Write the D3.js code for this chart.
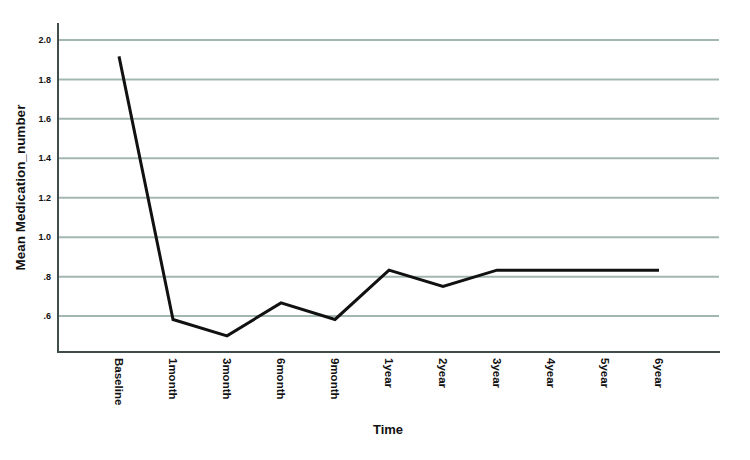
<!DOCTYPE html>
<html>
<head>
<meta charset="utf-8">
<script src="https://cdn.jsdelivr.net/npm/d3@7"></script>
<style>
  body { margin: 0; background: #fff; }
  svg text { font-family: "Liberation Sans", Arial, sans-serif; font-weight: bold; fill: #111; }
</style>
</head>
<body>
<div id="chart"></div>
<script>
const categories = ['Baseline', '1month', '3month', '6month', '9month', '1year', '2year', '3year', '4year', '5year', '6year'];
const meanValues = [1.917, 0.583, 0.5, 0.667, 0.583, 0.833, 0.75, 0.833, 0.833, 0.833, 0.833];
const yTicks = [0.6, 0.8, 1.0, 1.2, 1.4, 1.6, 1.8, 2.0];
const yTickLabels = ['.6', '.8', '1.0', '1.2', '1.4', '1.6', '1.8', '2.0'];

const width = 750, height = 460;
const plot = { left: 58, right: 720, top: 23, bottom: 352 };

const svg = d3.select('#chart').append('svg')
  .attr('width', width)
  .attr('height', height);

const x = d3.scalePoint().domain(categories).range([plot.left, plot.right]).padding(1.13);
const y = d3.scaleLinear().domain([0.418, 2.086]).range([plot.bottom, plot.top]);

// gridlines
svg.append('g')
  .selectAll('line')
  .data(yTicks)
  .enter().append('line')
  .attr('x1', plot.left)
  .attr('x2', plot.right - 1)
  .attr('y1', d => y(d))
  .attr('y2', d => y(d))
  .style('stroke', '#a3b7b2')
  .style('stroke-width', 2);

// y tick labels
svg.append('g')
  .selectAll('text')
  .data(yTicks)
  .enter().append('text')
  .attr('x', plot.left - 7)
  .attr('y', d => y(d))
  .attr('dy', '0.35em')
  .attr('text-anchor', 'end')
  .style('font-size', '9px')
  .text((d, i) => yTickLabels[i]);

// axes lines
svg.append('line')
  .attr('x1', plot.left).attr('x2', plot.left)
  .attr('y1', plot.top).attr('y2', plot.bottom)
  .style('stroke', '#3f4d4b').style('stroke-width', 2);
svg.append('line')
  .attr('x1', plot.left - 1).attr('x2', plot.right)
  .attr('y1', plot.bottom).attr('y2', plot.bottom)
  .style('stroke', '#3f4d4b').style('stroke-width', 2);

// x tick labels, rotated
svg.append('g')
  .selectAll('text')
  .data(categories)
  .enter().append('text')
  .attr('transform', d => 'translate(' + x(d) + ',' + (plot.bottom + 6) + ') rotate(90)')
  .attr('dy', '0.35em')
  .attr('text-anchor', 'start')
  .style('font-size', '11.5px')
  .text(d => d);

// line
const line = d3.line()
  .x((d, i) => x(categories[i]))
  .y(d => y(d));

svg.append('path')
  .datum(meanValues)
  .attr('d', line)
  .style('fill', 'none')
  .style('stroke', '#111')
  .style('stroke-width', 3)
  .style('stroke-linejoin', 'miter');

// axis titles
svg.append('text')
  .attr('transform', 'translate(25,' + ((plot.top + plot.bottom) / 2) + ') rotate(-90)')
  .attr('text-anchor', 'middle')
  .style('font-size', '13.5px')
  .text('Mean Medication_number');

svg.append('text')
  .attr('x', 388)
  .attr('y', 434)
  .attr('text-anchor', 'middle')
  .style('font-size', '13px')
  .text('Time');
</script>
</body>
</html>
